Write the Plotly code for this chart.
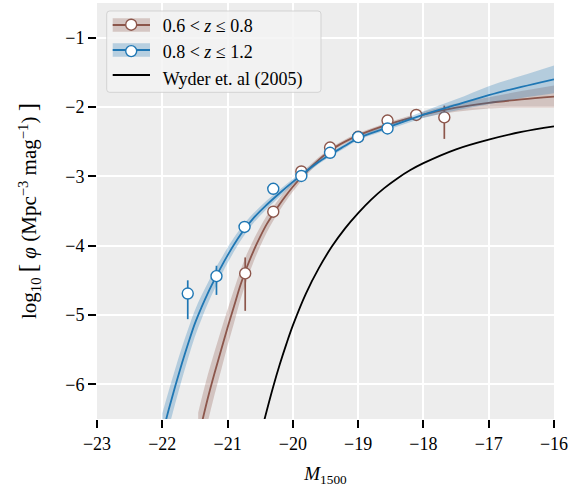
import plotly.graph_objects as go

# ---------------- model curves ----------------
# 0.6 < z <= 0.8  (brown)
brown_curve_M = [-21.45, -21.38, -21.30, -21.20, -21.10, -21.00, -20.90, -20.80, -20.70,
                 -20.60, -20.50, -20.40, -20.30, -20.20, -20.10, -20.00, -19.80, -19.60,
                 -19.40, -19.20, -19.00, -18.50, -18.00, -17.50, -17.00, -16.50, -16.00]
brown_curve_phi = [-6.78, -6.50, -6.19, -5.84, -5.51, -5.18, -4.87, -4.56, -4.30,
                   -4.07, -3.87, -3.69, -3.54, -3.40, -3.27, -3.15, -2.94, -2.76,
                   -2.61, -2.50, -2.41, -2.24, -2.11, -2.01, -1.94, -1.89, -1.85]
brown_band_half = [0.37, 0.36, 0.34, 0.31, 0.29, 0.26, 0.24, 0.21, 0.19,
                   0.16, 0.14, 0.12, 0.10, 0.09, 0.08, 0.07, 0.05, 0.04,
                   0.03, 0.03, 0.03, 0.03, 0.04, 0.06, 0.08, 0.12, 0.16]

# 0.8 < z <= 1.2  (blue)
blue_curve_M = [-22.00, -21.90, -21.80, -21.70, -21.60, -21.50, -21.40, -21.30, -21.20,
                -21.10, -21.00, -20.80, -20.60, -20.40, -20.20, -20.00, -19.80, -19.60,
                -19.40, -19.20, -19.00, -18.50, -18.00, -17.50, -17.00, -16.50, -16.00]
blue_curve_phi = [-6.72, -6.36, -6.02, -5.70, -5.40, -5.12, -4.89, -4.68, -4.49,
                  -4.31, -4.14, -3.84, -3.60, -3.41, -3.24, -3.08, -2.93, -2.79,
                  -2.67, -2.56, -2.45, -2.28, -2.11, -1.97, -1.83, -1.71, -1.60]
blue_band_half = [0.30, 0.27, 0.25, 0.23, 0.21, 0.19, 0.17, 0.15, 0.14,
                  0.12, 0.11, 0.09, 0.07, 0.06, 0.05, 0.04, 0.035, 0.03,
                  0.03, 0.03, 0.03, 0.035, 0.05, 0.08, 0.13, 0.16, 0.20]

# Wyder et al. (2005)
wyder_M = [-20.50, -20.40, -20.30, -20.20, -20.10, -20.00, -19.80, -19.60, -19.40, -19.20,
           -19.00, -18.80, -18.60, -18.40, -18.20, -18.00, -17.50, -17.00, -16.50, -16.00]
wyder_phi = [-6.75, -6.38, -6.03, -5.71, -5.42, -5.15, -4.69, -4.32, -4.01, -3.75,
             -3.53, -3.335, -3.17, -3.03, -2.91, -2.81, -2.61, -2.47, -2.36, -2.28]

# ---------------- binned data points ----------------
brown_M = [-20.73, -20.30, -19.87, -19.43, -19.00, -18.55, -18.11, -17.68]
brown_phi = [-4.40, -3.51, -2.93, -2.585, -2.43, -2.195, -2.115, -2.15]
brown_err_up = [0.23, 0.04, 0.03, 0.02, 0.02, 0.02, 0.03, 0.17]
brown_err_dn = [0.54, 0.05, 0.03, 0.02, 0.02, 0.02, 0.03, 0.31]

blue_M = [-21.61, -21.17, -20.74, -20.30, -19.87, -19.43, -19.00, -18.55]
blue_phi = [-4.69, -4.44, -3.73, -3.18, -2.995, -2.66, -2.435, -2.31]
blue_err_up = [0.19, 0.15, 0.05, 0.04, 0.03, 0.02, 0.02, 0.02]
blue_err_dn = [0.37, 0.27, 0.06, 0.04, 0.03, 0.02, 0.02, 0.02]

x_ticks = [-23, -22, -21, -20, -19, -18, -17, -16]
y_ticks = [-6, -5, -4, -3, -2, -1]

legend_labels = ["0.6 &lt; <i>z</i> ≤ 0.8", "0.8 &lt; <i>z</i> ≤ 1.2", "Wyder et. al (2005)"]

BROWN = "#8c564b"
BLUE = "#1f77b4"
BROWN_FILL = "rgba(140,86,75,0.28)"
BLUE_FILL = "rgba(31,119,180,0.28)"
FONT = "Liberation Serif"

# plot-area geometry in pixels (for placing the legend frame)
W, H = 584, 487
ML, MR, MT, MB = 97, 30, 3, 68
PW, PH = W - ML - MR, H - MT - MB


def px(xp):
    return (xp - ML) / PW


def py(yp):
    return (H - MB - yp) / PH


fig = go.Figure()


def add_band(M, phi, half, fill):
    upper = [p + h for p, h in zip(phi, half)]
    lower = [p - h for p, h in zip(phi, half)]
    fig.add_trace(go.Scatter(x=M, y=upper, mode="lines", line=dict(width=0, color=fill),
                             line_shape="spline", showlegend=False, hoverinfo="skip"))
    fig.add_trace(go.Scatter(x=M, y=lower, mode="lines", line=dict(width=0, color=fill),
                             line_shape="spline", fill="tonexty", fillcolor=fill,
                             showlegend=False, hoverinfo="skip"))


def add_points(M, phi, up, dn, color):
    fig.add_trace(go.Scatter(
        x=M, y=phi, mode="markers",
        marker=dict(size=11, color="white", line=dict(color=color, width=1.4)),
        error_y=dict(type="data", symmetric=False, array=up, arrayminus=dn,
                     color=color, thickness=1.7, width=0),
        showlegend=False))


# brown
add_band(brown_curve_M, brown_curve_phi, brown_band_half, BROWN_FILL)
fig.add_trace(go.Scatter(x=brown_curve_M, y=brown_curve_phi, mode="lines", line_shape="spline",
                         line=dict(color=BROWN, width=1.8), showlegend=False))
add_points(brown_M, brown_phi, brown_err_up, brown_err_dn, BROWN)

# blue
add_band(blue_curve_M, blue_curve_phi, blue_band_half, BLUE_FILL)
fig.add_trace(go.Scatter(x=blue_curve_M, y=blue_curve_phi, mode="lines", line_shape="spline",
                         line=dict(color=BLUE, width=1.8), showlegend=False))
add_points(blue_M, blue_phi, blue_err_up, blue_err_dn, BLUE)

# Wyder
fig.add_trace(go.Scatter(x=wyder_M, y=wyder_phi, mode="lines", line_shape="spline",
                         line=dict(color="black", width=1.8), showlegend=False))

# legend entries (markers from the legend, handles' band/line from frame shapes)
legend_colors = [BROWN, BLUE, "black"]
legend_fills = [BROWN_FILL, BLUE_FILL, None]
for i, (lab, col) in enumerate(zip(legend_labels, legend_colors)):
    if i < 2:
        fig.add_trace(go.Scatter(
            x=[None], y=[None], mode="markers", name=lab,
            marker=dict(size=11, color="white", line=dict(color=col, width=1.4))))
    else:
        fig.add_trace(go.Scatter(x=[None], y=[None], mode="lines", name=lab,
                                 line=dict(color="rgba(0,0,0,0)", width=0)))

# legend frame
bx0, bx1, by0, by1, r = 106.7, 321.0, 11.0, 92.3, 3.0
path = (f"M {px(bx0 + r)} {py(by0)} L {px(bx1 - r)} {py(by0)} "
        f"Q {px(bx1)} {py(by0)} {px(bx1)} {py(by0 + r)} L {px(bx1)} {py(by1 - r)} "
        f"Q {px(bx1)} {py(by1)} {px(bx1 - r)} {py(by1)} L {px(bx0 + r)} {py(by1)} "
        f"Q {px(bx0)} {py(by1)} {px(bx0)} {py(by1 - r)} L {px(bx0)} {py(by0 + r)} "
        f"Q {px(bx0)} {py(by0)} {px(bx0 + r)} {py(by0)} Z")
shapes = [dict(type="path", xref="paper", yref="paper", path=path, layer="above",
               fillcolor="rgba(242,242,242,0.8)", line=dict(color="rgba(204,204,204,0.8)", width=1))]
row_centers = [25.0, 50.0, 75.0]
hx0, hx1 = 112.7, 150.0
for yc, col, fc in zip(row_centers, legend_colors, legend_fills):
    if fc:
        shapes.append(dict(type="rect", xref="paper", yref="paper", layer="above",
                           x0=px(hx0), x1=px(hx1), y0=py(yc - 6.7), y1=py(yc + 6.7),
                           fillcolor=fc, line=dict(width=0)))
    shapes.append(dict(type="line", xref="paper", yref="paper", layer="above",
                       x0=px(hx0), x1=px(hx1), y0=py(yc), y1=py(yc),
                       line=dict(color=col, width=1.8)))

axis_common = dict(
    ticks="outside", ticklen=8, tickwidth=1.5, tickcolor="black",
    showgrid=True, gridcolor="white", gridwidth=1.8, zeroline=False, showline=False,
    tickfont=dict(family=FONT, size=18, color="black"),
)

ytitle = ("log<sub>10</sub> <span style='font-size:25px'>[</span> <i>φ</i> "
          "(Mpc<sup>−3</sup> mag<sup>−1</sup>) <span style='font-size:25px'>]</span>")

fig.update_layout(
    width=W, height=H,
    margin=dict(l=ML, r=MR, t=MT, b=MB),
    paper_bgcolor="white", plot_bgcolor="#ededed",
    font=dict(family=FONT, size=17, color="black"),
    xaxis=dict(range=[-23, -16], tickvals=x_ticks, ticktext=[f"−{abs(v)}" for v in x_ticks],
               title=dict(text="<i>M</i><sub>1500</sub>", font=dict(family=FONT, size=19),
                          standoff=14),
               **axis_common),
    yaxis=dict(range=[-6.5, -0.5], tickvals=y_ticks, ticktext=[f"−{abs(v)}" for v in y_ticks],
               title=dict(text=ytitle, font=dict(family=FONT, size=21), standoff=22),
               **axis_common),
    legend=dict(x=px(99.7), y=py(6.5), xanchor="left", yanchor="top",
                bgcolor="rgba(0,0,0,0)", borderwidth=0, traceorder="normal",
                font=dict(family=FONT, size=18), itemwidth=53, tracegroupgap=0),
    shapes=shapes,
    showlegend=True,
)

fig.write_html("out.html", config={"displayModeBar": False},
               post_script="document.body.style.margin='0';document.body.style.padding='0';")
